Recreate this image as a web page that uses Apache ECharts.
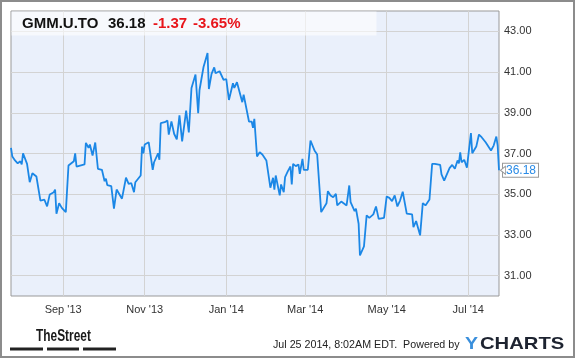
<!DOCTYPE html>
<html>
<head>
<meta charset="utf-8">
<script src="https://cdn.jsdelivr.net/npm/echarts@6/dist/echarts.min.js"></script>
<style>html,body{margin:0;padding:0;background:#fff;}#c{width:575px;height:358px;}</style>
</head>
<body>
<div id="c"></div>
<script>
var dates = ['2013-07-24','2013-07-25','2013-07-27','2013-07-29','2013-07-31','2013-08-01','2013-08-02','2013-08-05','2013-08-07','2013-08-09','2013-08-12','2013-08-13','2013-08-15','2013-08-18','2013-08-20','2013-08-22','2013-08-25','2013-08-26','2013-08-27','2013-08-29','2013-08-31','2013-09-03','2013-09-05','2013-09-09','2013-09-10','2013-09-11','2013-09-17','2013-09-18','2013-09-20','2013-09-21','2013-09-23','2013-09-25','2013-09-27','2013-09-30','2013-10-02','2013-10-03','2013-10-04','2013-10-07','2013-10-09','2013-10-11','2013-10-15','2013-10-18','2013-10-20','2013-10-22','2013-10-24','2013-10-25','2013-10-29','2013-10-30','2013-10-31','2013-11-01','2013-11-04','2013-11-07','2013-11-08','2013-11-11','2013-11-12','2013-11-13','2013-11-16','2013-11-18','2013-11-19','2013-11-21','2013-11-23','2013-11-25','2013-11-27','2013-11-28','2013-11-29','2013-12-02','2013-12-04','2013-12-06','2013-12-09','2013-12-11','2013-12-12','2013-12-13','2013-12-15','2013-12-18','2013-12-19','2013-12-21','2013-12-23','2013-12-24','2013-12-27','2013-12-30','2014-01-01','2014-01-03','2014-01-06','2014-01-07','2014-01-09','2014-01-13','2014-01-14','2014-01-18','2014-01-20','2014-01-21','2014-01-22','2014-01-24','2014-01-26','2014-01-28','2014-01-29','2014-01-31','2014-02-03','2014-02-05','2014-02-06','2014-02-07','2014-02-10','2014-02-11','2014-02-13','2014-02-14','2014-02-16','2014-02-18','2014-02-19','2014-02-20','2014-02-22','2014-02-24','2014-02-25','2014-02-27','2014-02-28','2014-03-03','2014-03-05','2014-03-08','2014-03-10','2014-03-13','2014-03-17','2014-03-18','2014-03-20','2014-03-21','2014-03-22','2014-03-24','2014-03-25','2014-03-28','2014-04-01','2014-04-03','2014-04-04','2014-04-07','2014-04-08','2014-04-10','2014-04-11','2014-04-14','2014-04-16','2014-04-18','2014-04-21','2014-04-23','2014-04-25','2014-04-29','2014-05-01','2014-05-03','2014-05-05','2014-05-07','2014-05-09','2014-05-11','2014-05-13','2014-05-16','2014-05-20','2014-05-21','2014-05-23','2014-05-26','2014-05-28','2014-05-30','2014-06-02','2014-06-04','2014-06-06','2014-06-10','2014-06-11','2014-06-13','2014-06-17','2014-06-19','2014-06-21','2014-06-23','2014-06-24','2014-06-25','2014-06-26','2014-06-28','2014-06-30','2014-07-03','2014-07-04','2014-07-07','2014-07-09','2014-07-11','2014-07-14','2014-07-18','2014-07-20','2014-07-22','2014-07-23','2014-07-24'];
var prices = [37.28,36.85,36.66,36.52,36.62,36.46,37.01,36.49,35.59,36.03,35.87,35.84,34.69,34.73,34.40,34.99,35.10,35.23,34.04,34.56,34.33,34.12,36.41,36.62,37.01,36.36,36.46,37.52,37.28,37.44,36.90,37.54,36.25,36.20,35.64,35.76,35.45,35.40,34.29,35.23,34.78,35.81,35.51,35.54,35.10,35.59,35.92,37.34,37.01,37.44,37.55,36.20,36.57,37.01,36.69,38.49,38.54,38.62,37.93,38.58,37.97,37.69,38.87,38.87,37.60,39.11,38.04,40.22,40.88,38.98,40.12,40.09,41.25,41.94,40.17,40.91,41.23,40.94,41.04,40.62,40.66,39.63,40.45,40.22,40.50,39.52,39.89,38.57,38.57,38.26,38.70,36.85,37.06,36.95,36.98,36.66,35.32,35.81,35.22,35.92,34.94,35.48,35.10,35.84,36.12,36.36,35.48,36.49,36.38,36.46,36.00,36.74,36.20,36.20,37.64,37.15,36.95,34.12,34.56,35.15,34.94,35.02,34.85,35.02,34.45,34.64,34.45,35.43,34.61,34.17,34.29,33.55,31.99,32.44,33.96,33.84,34.01,34.40,33.79,33.84,34.89,34.82,34.66,34.94,34.40,34.69,35.12,34.05,34.01,33.38,33.68,32.98,34.56,34.45,34.74,36.49,36.49,36.44,35.97,35.67,36.28,36.44,36.25,36.66,36.52,37.06,36.57,36.69,36.30,38.00,37.01,37.34,37.93,37.80,37.55,37.15,37.39,37.83,37.39,36.18];
var yTicks = [31,33,35,37,39,41,43];
var xTicks = ['2013-09-01','2013-11-01','2014-01-01','2014-03-01','2014-05-01','2014-07-01'];
var xMin = '2013-07-24', xMax = '2014-07-24';
var ticker = 'GMM.U.TO', lastPrice = '36.18', change = '-1.37', changePct = '-3.65%';
var footerText = 'Jul 25 2014, 8:02AM EDT.  Powered by';
var monthNames = ['Jan','Feb','Mar','Apr','May','Jun','Jul','Aug','Sep','Oct','Nov','Dec'];

function ts(s) { return Date.parse(s + 'T00:00:00Z'); }
var chart = echarts.init(document.getElementById('c'), null, {renderer: 'canvas'});
var seriesData = dates.map(function (d, i) { return [ts(d), prices[i]]; });
var xTickVals = xTicks.map(ts);
var F = 'Liberation Sans, Arial, sans-serif';

chart.setOption({
  animation: false,
  grid: {left: 11, top: 11, right: 76, bottom: 62, show: true, backgroundColor: '#eaf0fb', borderColor: '#999', borderWidth: 1},
  xAxis: {
    type: 'value', min: ts(xMin), max: ts(xMax),
    axisLine: {show: false}, axisTick: {show: false, customValues: xTickVals},
    splitLine: {show: true, lineStyle: {color: '#d3d3d3', width: 1}},
    axisLabel: {customValues: xTickVals, color: '#333', fontSize: 11, fontFamily: F, margin: 8,
      formatter: function (v) { var d = new Date(v); return monthNames[d.getUTCMonth()] + " '" + String(d.getUTCFullYear()).slice(2); }}
  },
  yAxis: {
    type: 'value', position: 'right', min: 30, max: 44,
    axisLine: {show: false}, axisTick: {show: false, customValues: yTicks},
    splitLine: {show: true, lineStyle: {color: '#d3d3d3', width: 1}},
    axisLabel: {customValues: yTicks, color: '#333', fontSize: 11, fontFamily: F, margin: 5,
      formatter: function (v) { return v.toFixed(2); }}
  },
  series: [{
    type: 'line', data: seriesData, showSymbol: false, symbol: 'none',
    lineStyle: {color: '#1b87e6', width: 1.8},
    endLabel: {show: true, distance: 4, formatter: function (p) { return p.value[1].toFixed(2); },
      color: '#2a8be6', fontSize: 12, fontFamily: F, backgroundColor: '#fff', borderColor: '#999', borderWidth: 1, padding: [1, 2, 0, 3]},
    markPoint: {
      silent: true, symbol: 'triangle', symbolSize: [8, 5], symbolRotate: 90, symbolOffset: [4, 0],
      itemStyle: {color: '#fff', borderColor: '#999', borderWidth: 1},
      label: {show: false},
      data: [{coord: seriesData[seriesData.length - 1]}]
    }
  }],
  graphic: [
    {type: 'rect', shape: {x: 1, y: 1, width: 573, height: 356}, style: {fill: 'none', stroke: '#8c8c8c', lineWidth: 2}, z: 100},
    {type: 'rect', shape: {x: 11.5, y: 11.5, width: 365, height: 24}, style: {fill: 'rgba(255,255,255,0.6)'}, z: 50},
    {type: 'text', x: 22, y: 24, style: {text: ticker, font: 'bold 15px ' + F, fill: '#111', textVerticalAlign: 'middle'}, z: 60},
    {type: 'text', x: 108, y: 24, style: {text: lastPrice, font: 'bold 15px ' + F, fill: '#111', textVerticalAlign: 'middle'}, z: 60},
    {type: 'text', x: 153, y: 24, style: {text: change, font: 'bold 15px ' + F, fill: '#e8151b', textVerticalAlign: 'middle'}, z: 60},
    {type: 'text', x: 193, y: 24, style: {text: changePct, font: 'bold 15px ' + F, fill: '#e8151b', textVerticalAlign: 'middle'}, z: 60},
    {type: 'text', x: 36, y: 336, scaleX: 0.7, style: {text: 'TheStreet', font: 'bold 17px ' + F, fill: '#1a1a1a', textVerticalAlign: 'middle'}, z: 60},
    {type: 'rect', shape: {x: 10, y: 347.5, width: 33, height: 3}, style: {fill: '#222'}},
    {type: 'rect', shape: {x: 47, y: 347.5, width: 32, height: 3}, style: {fill: '#222'}},
    {type: 'rect', shape: {x: 83, y: 347.5, width: 33, height: 3}, style: {fill: '#222'}},
    {type: 'text', x: 273, y: 345, style: {text: footerText, font: '10.7px ' + F, fill: '#222', textVerticalAlign: 'middle'}, z: 60},
    {type: 'text', x: 465, y: 344, scaleX: 1.15, style: {text: 'Y', font: 'bold 17px ' + F, fill: '#3a8fdc', textVerticalAlign: 'middle'}, z: 60},
    {type: 'text', x: 480, y: 344, scaleX: 1.19, style: {text: 'CHARTS', font: 'bold 17px ' + F, fill: '#1d2330', textVerticalAlign: 'middle'}, z: 60}
  ]
});
</script>
</body>
</html>
